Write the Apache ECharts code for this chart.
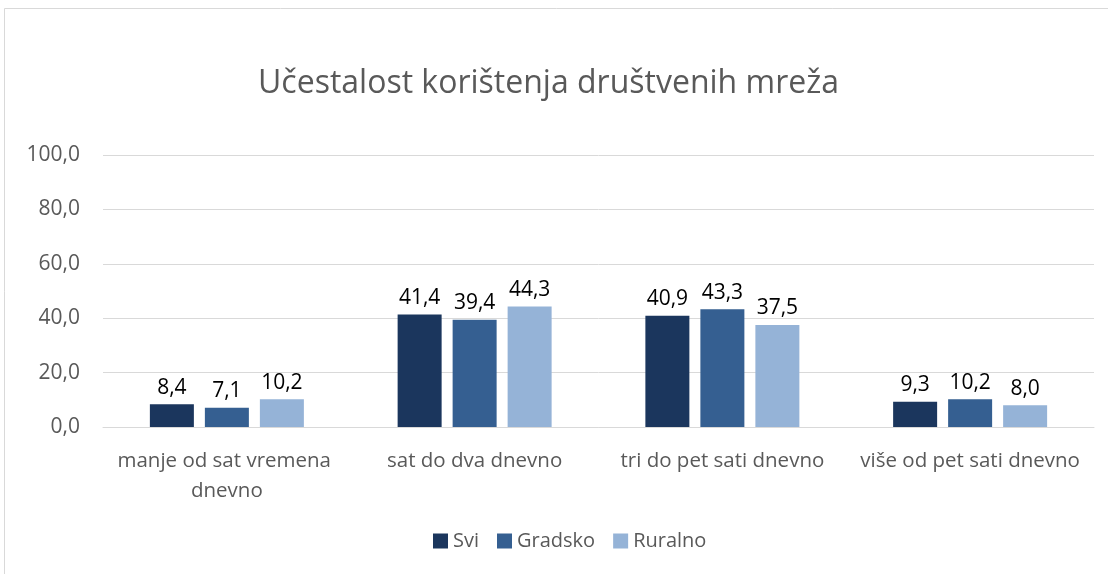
<!DOCTYPE html>
<html>
<head>
<meta charset="utf-8">
<script src="https://cdn.jsdelivr.net/npm/echarts@6/dist/echarts.min.js"></script>
<style>
  html, body { margin: 0; padding: 0; background: #fff; }
  #chart { width: 1108px; height: 574px; }
</style>
</head>
<body>
<div id="chart"></div>
<script>
/* ---------- data ---------- */
const categories = [
  'manje od sat vremena dnevno',
  'sat do dva dnevno',
  'tri do pet sati dnevno',
  'više od pet sati dnevno'
];
const seriesNames = ['Svi', 'Gradsko', 'Ruralno'];
const sviValues = [8.4, 41.4, 40.9, 9.3];
const gradskoValues = [7.1, 39.4, 43.3, 10.2];
const ruralnoValues = [10.2, 44.3, 37.5, 8.0];
const colors = ['#1b365d', '#355f91', '#95b3d7'];

const FONT = '"Open Sans", "Noto Sans", sans-serif';
const fmt = v => v.toFixed(1).replace('.', ',');

const chart = echarts.init(document.getElementById('chart'));

const makeSeries = (name, data, i) => ({
  name,
  type: 'bar',
  data,
  barWidth: 44,
  barGap: '25%',
  itemStyle: { color: colors[i] },
  label: {
    show: true,
    position: 'top',
    distance: 6,
    color: '#000',
    fontFamily: FONT,
    fontSize: 21,
    formatter: p => fmt(p.value)
  }
});

chart.setOption({
  animation: false,
  textStyle: { fontFamily: FONT },
  title: {
    text: 'Učestalost korištenja društvenih mreža',
    left: 253,
    top: 63,
    textStyle: { fontFamily: FONT, fontSize: 32, fontWeight: 'normal', color: '#595959' }
  },
  graphic: [{
    type: 'rect',
    shape: { x: 4.5, y: 8.5, width: 1200, height: 700 },
    style: { fill: 'none', stroke: '#d9d9d9', lineWidth: 1 },
    silent: true
  }],
  legend: {
    data: seriesNames,
    bottom: 18,
    left: 428,
    itemWidth: 15,
    itemHeight: 15,
    itemGap: 18,
    icon: 'rect',
    textStyle: { fontFamily: FONT, fontSize: 20, color: '#595959' }
  },
  grid: { left: 103, right: 14, top: 155, bottom: 147, containLabel: false },
  xAxis: {
    type: 'category',
    data: categories,
    axisLine: { lineStyle: { color: '#d9d9d9' } },
    axisTick: { show: false },
    axisLabel: {
      color: '#595959',
      fontFamily: FONT,
      fontSize: 20.5,
      margin: 19,
      lineHeight: 30,
      width: 240,
      overflow: 'break',
      interval: 0
    }
  },
  yAxis: {
    type: 'value',
    min: 0,
    max: 100,
    interval: 20,
    axisLine: { show: false },
    axisTick: { show: false },
    splitLine: { lineStyle: { color: '#d9d9d9' } },
    axisLabel: {
      color: '#595959',
      fontFamily: FONT,
      fontSize: 21,
      margin: 23,
      formatter: v => fmt(v)
    }
  },
  series: [
    makeSeries(seriesNames[0], sviValues, 0),
    makeSeries(seriesNames[1], gradskoValues, 1),
    makeSeries(seriesNames[2], ruralnoValues, 2)
  ]
});
</script>
</body>
</html>
